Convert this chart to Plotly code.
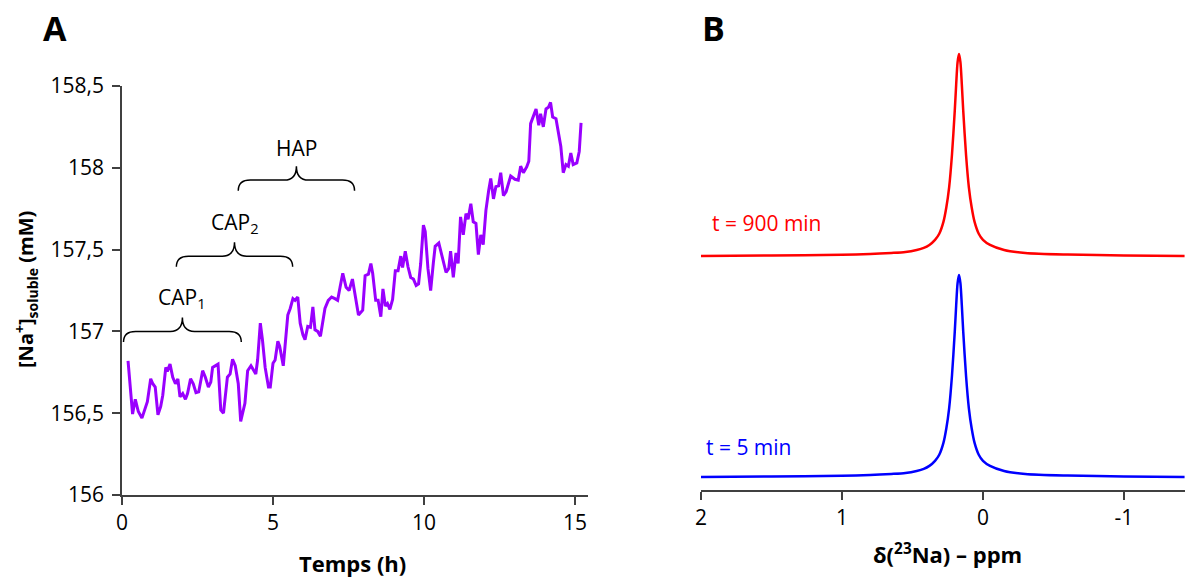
import plotly.graph_objects as go

# ---------------- Panel A data : soluble Na+ vs time ----------------
time_h = [0.2, 0.35, 0.44, 0.54, 0.66, 0.84, 0.95, 1.02, 1.1, 1.19, 1.28, 1.35, 1.45, 1.5, 1.59,
          1.68, 1.77, 1.85, 1.92, 2.01, 2.1, 2.17, 2.27, 2.36, 2.45, 2.54, 2.67, 2.76, 2.86, 2.94,
          3.0, 3.18, 3.27, 3.36, 3.49, 3.58, 3.66, 3.75, 3.85, 3.93, 4.07, 4.16, 4.27, 4.38, 4.43,
          4.49, 4.58, 4.65, 4.74, 4.85, 4.91, 5.0, 5.07, 5.16, 5.22, 5.34, 5.42, 5.49, 5.57, 5.66,
          5.73, 5.82, 5.9, 5.99, 6.06, 6.15, 6.24, 6.32, 6.39, 6.48, 6.57, 6.63, 6.72, 6.83, 6.94,
          7.05, 7.14, 7.22, 7.31, 7.42, 7.52, 7.63, 7.72, 7.83, 7.97, 8.05, 8.16, 8.24, 8.3, 8.4,
          8.48, 8.57, 8.64, 8.72, 8.79, 8.87, 8.96, 9.05, 9.14, 9.23, 9.29, 9.38, 9.47, 9.56, 9.65,
          9.74, 9.82, 9.89, 9.98, 10.04, 10.13, 10.22, 10.31, 10.37, 10.49, 10.6, 10.73, 10.82,
          10.88, 10.97, 11.06, 11.13, 11.21, 11.3, 11.39, 11.46, 11.55, 11.63, 11.72, 11.8, 11.88,
          11.96, 12.05, 12.14, 12.21, 12.3, 12.38, 12.47, 12.54, 12.63, 12.72, 12.87, 13.01, 13.12,
          13.2, 13.29, 13.4, 13.47, 13.53, 13.71, 13.8, 13.86, 13.95, 14.04, 14.12, 14.19, 14.26,
          14.37, 14.45, 14.53, 14.61, 14.7, 14.78, 14.86, 14.94, 15.06, 15.14, 15.2]
na_mM = [156.82, 156.495, 156.585, 156.51, 156.47, 156.57, 156.71, 156.68, 156.66, 156.49, 156.54,
         156.61, 156.78, 156.755, 156.80, 156.72, 156.68, 156.71, 156.60, 156.62, 156.585, 156.62,
         156.71, 156.68, 156.625, 156.63, 156.76, 156.72, 156.66, 156.69, 156.78, 156.80, 156.52,
         156.50, 156.72, 156.74, 156.83, 156.79, 156.68, 156.45, 156.56, 156.76, 156.79, 156.76,
         156.74, 156.825, 157.05, 156.95, 156.78, 156.66, 156.66, 156.805, 156.825, 156.94, 156.91,
         156.79, 156.94, 157.10, 157.14, 157.20, 157.19, 157.21, 157.05, 156.98, 156.95, 157.03,
         157.025, 157.15, 157.01, 157.0, 156.97, 157.05, 157.14, 157.19, 157.21, 157.20, 157.19,
         157.27, 157.355, 157.27, 157.25, 157.32, 157.23, 157.10, 157.13, 157.34, 157.35, 157.415,
         157.355, 157.19, 157.19, 157.09, 157.26, 157.155, 157.17, 157.135, 157.195, 157.37, 157.37,
         157.46, 157.39, 157.49, 157.395, 157.33, 157.32, 157.28, 157.29, 157.415, 157.65, 157.61,
         157.385, 157.25, 157.42, 157.52, 157.54, 157.45, 157.36, 157.385, 157.49, 157.33, 157.48,
         157.415, 157.70, 157.59, 157.72, 157.685, 157.78, 157.67, 157.66, 157.47, 157.59, 157.53,
         157.74, 157.86, 157.935, 157.81, 157.885, 157.89, 157.97, 157.83, 157.855, 157.95, 157.93,
         157.925, 158.01, 157.97, 158.005, 158.04, 158.27, 158.36, 158.26, 158.33, 158.25, 158.36,
         158.37, 158.40, 158.31, 158.30, 158.20, 158.13, 157.97, 158.02, 158.01, 158.09, 158.02,
         158.03, 158.10, 158.275]

# precipitation phases (brace annotations)
phase_labels = ["CAP<sub>1</sub>", "CAP<sub>2</sub>", "HAP"]
phase_start = [0.05, 1.8, 3.85]
phase_end = [3.95, 5.65, 7.7]
phase_level = [157.0, 157.46, 157.925]

yA_ticks = [156, 156.5, 157, 157.5, 158, 158.5]
yA_ticktext = ["156", "156,5", "157", "157,5", "158", "158,5"]
xA_ticks = [0, 5, 10, 15]

# ---------------- Panel B data : 23Na NMR spectra ----------------
ppm = [2.0, 1.5, 1.0, 0.8, 0.65, 0.55, 0.47, 0.42, 0.38, 0.34, 0.31, 0.28, 0.26, 0.24, 0.22, 0.2,
       0.19, 0.18, 0.17, 0.16, 0.15, 0.14, 0.12, 0.10, 0.08, 0.06, 0.03, 0.0, -0.05, -0.15, -0.3,
       -0.6, -1.0, -1.43]
intensity_5min = [0.0, 0.003, 0.006, 0.01, 0.015, 0.02, 0.03, 0.04, 0.055, 0.08, 0.11, 0.17, 0.24,
                  0.34, 0.5, 0.72, 0.85, 0.96, 1.0, 0.96, 0.85, 0.72, 0.5, 0.34, 0.24, 0.17, 0.11,
                  0.08, 0.055, 0.03, 0.015, 0.007, 0.003, 0.0]
intensity_900min = [0.0, 0.003, 0.006, 0.01, 0.015, 0.02, 0.03, 0.04, 0.055, 0.08, 0.11, 0.17, 0.24,
                    0.34, 0.5, 0.72, 0.85, 0.96, 1.0, 0.96, 0.85, 0.72, 0.5, 0.34, 0.24, 0.17, 0.11,
                    0.08, 0.055, 0.03, 0.015, 0.007, 0.003, 0.0]
spectrum_labels = ["t = 5 min", "t = 900 min"]
xB_ticks = [2, 1, 0, -1]
xB_ticktext = ["2", "1", "0", "-1"]

# ---------------- styling ----------------
FONT = "Open Sans"
AXIS_COL = "#404040"
PURPLE = "#9900FF"
STACK_OFFSET = 1.094

W, H = 1185, 577

def fx(xp):  # window pixel -> paper x
    return xp / W

def fy(yp):  # window pixel -> paper y
    return 1 - yp / H

fig = go.Figure()

fig.add_trace(go.Scatter(x=time_h, y=na_mM, mode="lines",
                         line=dict(color=PURPLE, width=3), xaxis="x", yaxis="y",
                         showlegend=False, hoverinfo="skip"))

fig.add_trace(go.Scatter(x=ppm, y=intensity_5min, mode="lines",
                         line=dict(color="#0000FF", width=2.5, shape="spline", smoothing=0.8),
                         xaxis="x2", yaxis="y2", showlegend=False, hoverinfo="skip"))
fig.add_trace(go.Scatter(x=ppm, y=[v + STACK_OFFSET for v in intensity_900min], mode="lines",
                         line=dict(color="#FF0000", width=2.5, shape="spline", smoothing=0.8),
                         xaxis="x2", yaxis="y2", showlegend=False, hoverinfo="skip"))

# braces
shapes = []
annotations = []
r = 0.4      # curl length (h)
drop = 0.065 # end drop (mM)
rise = 0.085 # tip rise (mM)
for lab, x0, x1, yl in zip(phase_labels, phase_start, phase_end, phase_level):
    xm = (x0 + x1) / 2
    path = (f"M {x0},{yl - drop} Q {x0},{yl} {x0 + r},{yl} L {xm - r},{yl} "
            f"Q {xm},{yl} {xm},{yl + rise} Q {xm},{yl} {xm + r},{yl} "
            f"L {x1 - r},{yl} Q {x1},{yl} {x1},{yl - drop}")
    shapes.append(dict(type="path", path=path, xref="x", yref="y",
                       line=dict(color="black", width=1.5)))
    annotations.append(dict(x=xm, y=yl + rise, xref="x", yref="y", text=lab, showarrow=False,
                            xanchor="center", yanchor="bottom", yshift=2,
                            font=dict(family=FONT, size=21, color="black")))

# spectrum labels
annotations.append(dict(x=1.98, y=0.149, xref="x2", yref="y2", text=spectrum_labels[0],
                        showarrow=False, xanchor="left", yanchor="middle",
                        font=dict(family=FONT, size=21, color="#0000FF")))
annotations.append(dict(x=1.936, y=1.257, xref="x2", yref="y2", text=spectrum_labels[1],
                        showarrow=False, xanchor="left", yanchor="middle",
                        font=dict(family=FONT, size=21, color="#FF0000")))

# panel letters and axis titles
for letter, (lx, ly) in (("A", (55, 28)), ("B", (713, 28))):
    annotations.append(dict(x=fx(lx), y=fy(ly), xref="paper", yref="paper",
                            text=f"<b>{letter}</b>",
                            showarrow=False, xanchor="center", yanchor="middle",
                            font=dict(family=FONT, size=34, color="black")))

annotations.append(dict(x=fx(352), y=fy(563), xref="paper", yref="paper",
                        text="<b>Temps (h)</b>",
                        showarrow=False, xanchor="center", yanchor="middle",
                        font=dict(family=FONT, size=22, color="black")))
annotations.append(dict(x=fx(947), y=fy(553), xref="paper", yref="paper",
                        text="<b>δ(<sup>23</sup>Na) – ppm</b>",
                        showarrow=False, xanchor="center", yanchor="middle",
                        font=dict(family=FONT, size=22, color="black")))
annotations.append(dict(x=fx(26), y=fy(290), xref="paper", yref="paper",
                        text="<b>[Na<sup>+</sup>]<sub>soluble</sub> (mM)</b>",
                        showarrow=False, xanchor="center", yanchor="middle", textangle=-90,
                        font=dict(family=FONT, size=20, color="black")))

common_axis = dict(showgrid=False, zeroline=False, showline=True, linecolor=AXIS_COL,
                   linewidth=1.5, ticks="outside", tickcolor=AXIS_COL, tickwidth=1.5, ticklen=8,
                   automargin=False,
                   tickfont=dict(family=FONT, size=21, color="black"))

fig.update_layout(
    width=W, height=H, margin=dict(l=0, r=0, t=0, b=0, pad=0, autoexpand=False),
    paper_bgcolor="white", plot_bgcolor="white",
    xaxis=dict(domain=[fx(122), fx(588)], range=[0, 15.43], tickvals=xA_ticks,
               anchor="y", **common_axis),
    yaxis=dict(domain=[fy(495), fy(86)], range=[156, 158.5], tickvals=yA_ticks,
               ticktext=yA_ticktext, anchor="x", ticklabelstandoff=4, **common_axis),
    xaxis2=dict(domain=[fx(701), 1.0], range=[2, -1.433], tickvals=xB_ticks,
                ticktext=xB_ticktext, anchor="y2", **common_axis),
    yaxis2=dict(domain=[fy(490), fy(40)], range=[-0.0644, 2.1634], visible=False,
                anchor="x2"),
    shapes=shapes, annotations=annotations,
)

# remove the default page margin so the 1185x577 figure fills the window exactly
fig.write_html("out.html", config={"displayModeBar": False},
               post_script="document.body.style.margin='0px';document.body.style.overflow='hidden';")
